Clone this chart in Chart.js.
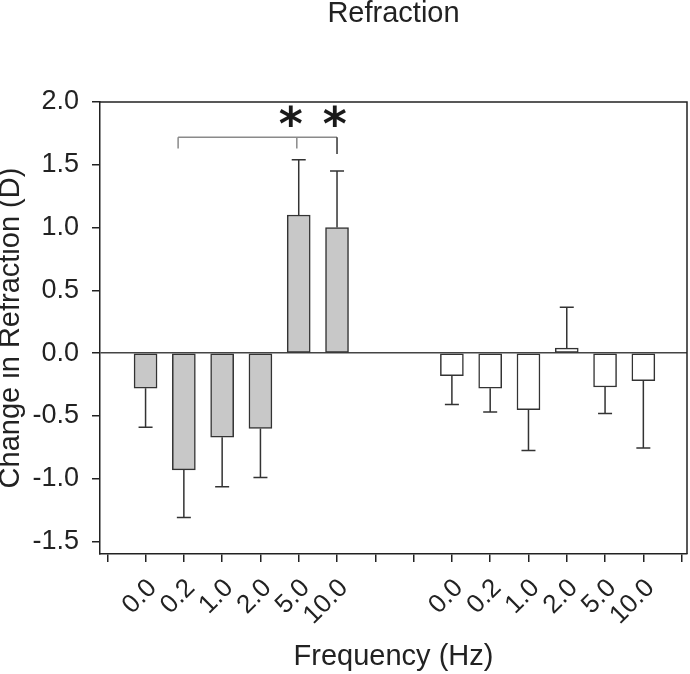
<!DOCTYPE html>
<html><head><meta charset="utf-8">
<script src="https://cdn.jsdelivr.net/npm/chart.js@4/dist/chart.umd.min.js"></script>
<style>html,body{margin:0;padding:0;background:#fff}#wrap{width:690px;height:674px;position:relative}</style>
</head><body><div id="wrap"><canvas id="c"></canvas></div>
<script>
// ---- data ----
const tickLabels = ['', '0.0', '0.2', '1.0', '2.0', '5.0', '10.0', '', '', '0.0', '0.2', '1.0', '2.0', '5.0', '10.0', ''];
const groupACategories = ['0.0', '0.2', '1.0', '2.0', '5.0', '10.0'];
const groupAValues = [-0.28, -0.93, -0.67, -0.60, 1.10, 1.00];
const groupAErrors = [0.31, 0.38, 0.395, 0.39, 0.44, 0.45];
const groupBCategories = ['0.0', '0.2', '1.0', '2.0', '5.0', '10.0'];
const groupBValues = [-0.18, -0.28, -0.45, 0.04, -0.27, -0.22];
const groupBErrors = [0.23, 0.19, 0.325, 0.325, 0.21, 0.535];
const yTicks = [-1.5, -1.0, -0.5, 0.0, 0.5, 1.0, 1.5, 2.0];
const groupAStart = 1;   // slot of first bar of group A
const groupBStart = 9;   // slot of first bar of group B

// significance annotation (data coordinates)
const sigBracket = { from: 1.85, mids: [4.95, 6.0], y: 1.72, drops: [1.63, 1.63, 1.585] };
const sigStars = { x: [4.79, 5.94], y: 1.88, text: '*' };

const FONT = "'Liberation Sans', Arial, Helvetica, sans-serif";
const INK = '#222';

function toPoints(values, start) {
  return values.map((v, i) => ({ x: start + i, y: v }));
}

const extras = {
  id: 'extras',
  afterDatasetsDraw(chart) {
    const ctx = chart.ctx;
    const xs = chart.scales.x, ys = chart.scales.y;
    const errs = [groupAErrors, groupBErrors];
    ctx.save();
    ctx.strokeStyle = '#333';
    ctx.lineWidth = 1.5;
    [0, 1].forEach(di => {
      const meta = chart.getDatasetMeta(di);
      const vals = chart.data.datasets[di].data;
      meta.data.forEach((el, j) => {
        const v = vals[j].y, e = errs[di][j];
        const s = v >= 0 ? 1 : -1;
        const x = el.x;
        const y0 = ys.getPixelForValue(v);
        const y1 = ys.getPixelForValue(v + s * e);
        ctx.beginPath();
        ctx.moveTo(x, y0); ctx.lineTo(x, y1);
        ctx.moveTo(x - 7, y1); ctx.lineTo(x + 7, y1);
        ctx.stroke();
      });
    });
    // bracket
    const by = ys.getPixelForValue(sigBracket.y);
    const xl = xs.getPixelForValue(sigBracket.from);
    const xr = xs.getPixelForValue(sigBracket.mids[sigBracket.mids.length - 1]);
    ctx.strokeStyle = '#8a8a8a';
    ctx.beginPath();
    ctx.moveTo(xl, by); ctx.lineTo(xr, by);
    ctx.moveTo(xl, by); ctx.lineTo(xl, ys.getPixelForValue(sigBracket.drops[0]));
    const xm = xs.getPixelForValue(sigBracket.mids[0]);
    ctx.moveTo(xm, by); ctx.lineTo(xm, ys.getPixelForValue(sigBracket.drops[1]));
    ctx.stroke();
    ctx.strokeStyle = '#333';
    ctx.beginPath();
    ctx.moveTo(xr, by); ctx.lineTo(xr, ys.getPixelForValue(sigBracket.drops[2]));
    ctx.stroke();
    // stars
    ctx.fillStyle = '#1a1a1a';
    ctx.font = "bold 46px 'DejaVu Sans', " + FONT;
    ctx.textAlign = 'center';
    ctx.textBaseline = 'middle';
    sigStars.x.forEach(sx => {
      ctx.fillText(sigStars.text, xs.getPixelForValue(sx), ys.getPixelForValue(sigStars.y) + 11);
    });
    ctx.restore();
  },
  afterDraw(chart) {
    const { left, right, top, bottom } = chart.chartArea;
    const ctx = chart.ctx;
    ctx.save();
    ctx.strokeStyle = INK;
    ctx.lineWidth = 1.5;
    ctx.beginPath();
    ctx.moveTo(left, top); ctx.lineTo(right, top); ctx.lineTo(right, bottom);
    ctx.stroke();
    ctx.restore();
  }
};

new Chart(document.getElementById('c'), {
  type: 'bar',
  data: {
    datasets: [
      { label: 'A', data: toPoints(groupAValues, groupAStart), backgroundColor: '#c8c8c8', borderColor: '#333', borderWidth: 1.5, borderSkipped: false, barThickness: 23, grouped: false },
      { label: 'B', data: toPoints(groupBValues, groupBStart), backgroundColor: '#ffffff', borderColor: '#333', borderWidth: 1.5, borderSkipped: false, barThickness: 23, grouped: false }
    ]
  },
  options: {
    responsive: true,
    maintainAspectRatio: false,
    animation: false,
    events: [],
    layout: { padding: { left: 0, right: 3, top: 2, bottom: 0 } },
    plugins: {
      legend: { display: false },
      tooltip: { enabled: false },
      title: {
        display: true, fullSize: false, text: 'Refraction', color: INK,
        font: { family: FONT, size: 29, weight: 'normal', lineHeight: 0.8 },
        padding: { top: 0, bottom: 100 - 29 * 0.8 }
      }
    },
    scales: {
      x: {
        type: 'linear', min: -0.19, max: 15.14, offset: false,
        afterBuildTicks: s => { s.ticks = tickLabels.map((_, i) => ({ value: i })); },
        afterFit: s => { s.height = 120; s.paddingLeft = 0; s.paddingRight = 0; },
        ticks: {
          autoSkip: false, minRotation: 45, maxRotation: 45, padding: 11, labelOffset: 7, color: INK,
          font: { family: FONT, size: 26 },
          callback: (v) => tickLabels[Math.round(v)] ?? ''
        },
        grid: { offset: false, drawOnChartArea: false, drawTicks: true, tickLength: 8, tickColor: INK, lineWidth: 1.5 },
        border: { display: true, color: INK, width: 1.5 },
        title: { display: true, text: 'Frequency (Hz)', color: INK, font: { family: FONT, size: 29, lineHeight: 1.2 }, padding: { top: 0, bottom: 0 } }
      },
      y: {
        min: -1.6, max: 2.0,
        afterBuildTicks: s => { s.ticks = yTicks.map(v => ({ value: v })); },
        afterFit: s => { s.width = 100; },
        ticks: { color: INK, padding: 13, font: { family: FONT, size: 27 }, callback: v => v.toFixed(1) },
        grid: { color: c => (c.tick && c.tick.value === 0 ? '#444' : 'rgba(0,0,0,0)'), tickColor: INK, tickLength: 8, lineWidth: 1.5 },
        border: { display: true, color: INK, width: 1.5 },
        title: { display: true, text: 'Change in Refraction (D)', color: INK, font: { family: FONT, size: 29, lineHeight: 0.75 }, padding: { top: 0, bottom: 0 } }
      }
    }
  },
  plugins: [extras]
});
</script>
</body></html>
